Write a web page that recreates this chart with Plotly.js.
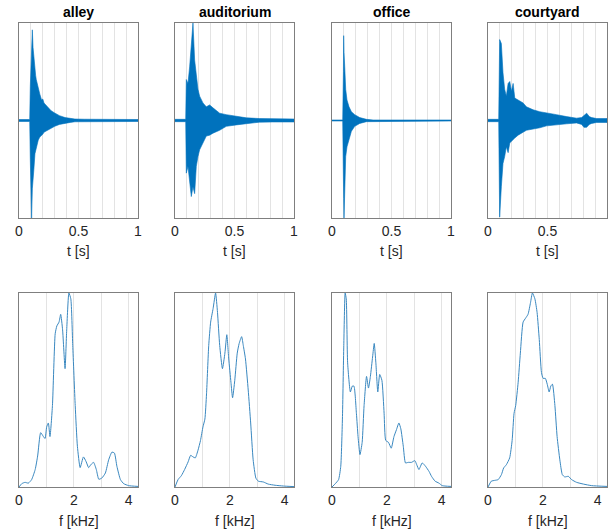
<!DOCTYPE html>
<html>
<head>
<meta charset="utf-8">
<script src="https://cdn.plot.ly/plotly-3.0.1.min.js"></script>
<style>html,body{margin:0;padding:0;background:#fff}#chart{width:610px;height:531px}</style>
</head>
<body>
<div id="chart"></div>
<script>
// ---- Data ----
const roomNames = ["alley", "auditorium", "office", "courtyard"];

// Impulse-response envelopes (normalized amplitude) vs time [s]
const alleyT     = [0, 0.09, 0.095, 0.100, 0.106, 0.112, 0.118, 0.125, 0.134, 0.14, 0.145, 0.155, 0.162, 0.175, 0.19, 0.2, 0.21, 0.23, 0.246, 0.27, 0.30, 0.34, 0.387, 0.43, 0.47, 0.55, 0.65, 0.75, 0.85, 1.0];
const alleyUp    = [0.01, 0.01, 0.35, 0.6, 0.85, 0.93, 0.75, 0.62, 0.52, 0.46, 0.42, 0.36, 0.31, 0.27, 0.21, 0.22, 0.18, 0.15, 0.13, 0.10, 0.077, 0.05, 0.03, 0.022, 0.015, 0.013, 0.012, 0.01, 0.012, 0.01];
const alleyLo    = [-0.01, -0.01, -0.4, -0.75, -1.0, -0.7, -0.58, -0.5, -0.34, -0.32, -0.27, -0.24, -0.2, -0.17, -0.15, -0.14, -0.12, -0.11, -0.1, -0.08, -0.06, -0.04, -0.027, -0.02, -0.013, -0.012, -0.011, -0.01, -0.011, -0.01];

const auditT     = [0, 0.09, 0.095, 0.109, 0.123, 0.137, 0.151, 0.165, 0.179, 0.193, 0.207, 0.235, 0.263, 0.291, 0.319, 0.375, 0.431, 0.515, 0.60, 0.71, 0.82, 0.94, 1.0];
const auditUp    = [0.012, 0.012, 0.42, 0.38, 0.55, 0.81, 1.0, 0.62, 0.45, 0.32, 0.25, 0.18, 0.14, 0.16, 0.13, 0.075, 0.06, 0.04, 0.027, 0.02, 0.017, 0.017, 0.015];
const auditLo    = [-0.012, -0.012, -0.54, -0.47, -0.61, -0.78, -0.68, -0.75, -0.47, -0.37, -0.3, -0.23, -0.16, -0.15, -0.13, -0.1, -0.06, -0.045, -0.03, -0.017, -0.015, -0.017, -0.015];

const officeT    = [0, 0.09, 0.096, 0.098, 0.101, 0.107, 0.115, 0.126, 0.143, 0.163, 0.191, 0.233, 0.289, 0.345, 1.0];
const officeUp   = [0.005, 0.005, 0.5, 0.87, 0.7, 0.55, 0.32, 0.21, 0.14, 0.09, 0.06, 0.03, 0.012, 0.005, 0.005];
const officeLo   = [-0.005, -0.005, -0.6, -0.8, -1.0, -0.68, -0.37, -0.27, -0.2, -0.11, -0.06, -0.03, -0.012, -0.005, -0.005];

const courtT     = [0, 0.09, 0.098, 0.107, 0.112, 0.126, 0.14, 0.154, 0.169, 0.183, 0.197, 0.211, 0.225, 0.253, 0.295, 0.323, 0.379, 0.435, 0.492, 0.576, 0.66, 0.744, 0.787, 0.806, 0.829, 0.851, 0.871, 0.913, 1.0];
const courtUp    = [0.012, 0.012, 0.83, 0.8, 0.79, 0.49, 0.32, 0.25, 0.38, 0.4, 0.3, 0.38, 0.23, 0.21, 0.18, 0.14, 0.11, 0.09, 0.075, 0.06, 0.04, 0.024, 0.03, 0.05, 0.075, 0.04, 0.03, 0.02, 0.02];
const courtLo    = [-0.012, -0.012, -0.99, -0.82, -0.68, -0.44, -0.37, -0.27, -0.33, -0.23, -0.22, -0.2, -0.18, -0.15, -0.12, -0.1, -0.085, -0.075, -0.055, -0.045, -0.034, -0.025, -0.04, -0.07, -0.07, -0.04, -0.03, -0.02, -0.02];

// Magnitude spectra (normalized) vs frequency [kHz]
const alleyF   = [0, 0.1, 0.22, 0.34, 0.46, 0.59, 0.68, 0.79, 0.89, 0.95, 1.01, 1.07, 1.13, 1.22, 1.32, 1.38, 1.46, 1.52, 1.59, 1.68, 1.74, 1.82, 1.89, 1.96, 2.05, 2.13, 2.23, 2.35, 2.45, 2.54, 2.62, 2.72, 2.82, 2.91, 3.02, 3.15, 3.27, 3.39, 3.48, 3.57, 3.70, 3.82, 4.0, 4.34];
const alleyS   = [0.0, 0.017, 0.024, 0.02, 0.038, 0.09, 0.16, 0.28, 0.26, 0.25, 0.31, 0.33, 0.26, 0.42, 0.79, 0.83, 0.85, 0.89, 0.81, 0.61, 0.81, 1.0, 0.97, 0.73, 0.42, 0.21, 0.10, 0.155, 0.13, 0.10, 0.115, 0.127, 0.09, 0.04, 0.046, 0.072, 0.14, 0.18, 0.175, 0.107, 0.038, 0.017, 0.007, 0.003];

const auditF   = [0, 0.11, 0.23, 0.35, 0.48, 0.57, 0.66, 0.74, 0.84, 0.93, 1.02, 1.09, 1.15, 1.23, 1.30, 1.39, 1.48, 1.55, 1.63, 1.73, 1.82, 1.89, 1.96, 2.04, 2.10, 2.18, 2.27, 2.34, 2.43, 2.49, 2.57, 2.67, 2.76, 2.85, 2.95, 3.04, 3.22, 3.40, 3.65, 3.95, 4.34];
const auditS   = [0.0, 0.038, 0.058, 0.09, 0.13, 0.163, 0.155, 0.15, 0.19, 0.24, 0.31, 0.35, 0.48, 0.73, 0.85, 0.92, 1.0, 0.90, 0.73, 0.61, 0.69, 0.785, 0.66, 0.54, 0.46, 0.55, 0.69, 0.74, 0.775, 0.73, 0.66, 0.50, 0.33, 0.14, 0.046, 0.03, 0.026, 0.015, 0.009, 0.005, 0.002];

const officeF  = [0, 0.12, 0.24, 0.32, 0.38, 0.43, 0.48, 0.52, 0.57, 0.67, 0.74, 0.80, 0.89, 0.95, 1.02, 1.10, 1.17, 1.26, 1.33, 1.40, 1.48, 1.54, 1.60, 1.67, 1.74, 1.82, 1.90, 1.96, 2.06, 2.16, 2.26, 2.35, 2.44, 2.51, 2.60, 2.68, 2.78, 2.90, 3.02, 3.09, 3.17, 3.29, 3.41, 3.54, 3.63, 3.76, 3.90, 4.02, 4.34];
const officeS  = [0.0, 0.017, 0.038, 0.107, 0.35, 0.73, 1.0, 0.97, 0.64, 0.49, 0.52, 0.52, 0.38, 0.26, 0.167, 0.23, 0.42, 0.57, 0.51, 0.57, 0.67, 0.74, 0.64, 0.49, 0.58, 0.55, 0.38, 0.24, 0.23, 0.20, 0.26, 0.295, 0.33, 0.30, 0.21, 0.124, 0.127, 0.127, 0.136, 0.115, 0.09, 0.124, 0.107, 0.08, 0.055, 0.03, 0.02, 0.007, 0.003];

const courtF   = [0, 0.12, 0.24, 0.37, 0.49, 0.57, 0.67, 0.79, 0.88, 0.95, 1.01, 1.10, 1.18, 1.28, 1.37, 1.46, 1.55, 1.62, 1.71, 1.79, 1.87, 1.95, 2.01, 2.09, 2.16, 2.23, 2.29, 2.35, 2.44, 2.52, 2.62, 2.71, 2.80, 2.93, 3.05, 3.23, 3.48, 3.78, 4.34];
const courtS   = [0.0, 0.03, 0.034, 0.038, 0.064, 0.098, 0.115, 0.15, 0.24, 0.38, 0.42, 0.54, 0.69, 0.85, 0.87, 0.89, 0.95, 1.0, 0.97, 0.90, 0.76, 0.59, 0.56, 0.56, 0.53, 0.49, 0.52, 0.53, 0.42, 0.26, 0.14, 0.064, 0.052, 0.055, 0.038, 0.024, 0.015, 0.007, 0.003];

const timeTicks = [0, 0.5, 1];
const freqTicks = [0, 2, 4];

// ---- Build figure ----
const envT = [alleyT, auditT, officeT, courtT];
const envU = [alleyUp, auditUp, officeUp, courtUp];
const envL = [alleyLo, auditLo, officeLo, courtLo];
const specF = [alleyF, auditF, officeF, courtF];
const specS = [alleyS, auditS, officeS, courtS];

const W = 610, H = 531;
const colPx = [[19, 138], [175, 294], [332, 451], [488, 607]];
const topRow = [23, 218], botRow = [293, 487];
const px = v => v / W, py = v => 1 - v / H;

const blue = "#0072BD";
const textFont = {family: "Liberation Sans, Arial, Helvetica, sans-serif", size: 14, color: "#262626"};
const traces = [];
const layout = {
  width: W, height: H, margin: {l: 0, r: 0, t: 0, b: 0},
  paper_bgcolor: "#fff", plot_bgcolor: "#fff", showlegend: false,
  font: textFont, annotations: []
};

for (let i = 0; i < 4; i++) {
  const xa = 2 * i + 1, xb = 2 * i + 2;
  const t = envT[i], u = envU[i], l = envL[i];
  traces.push({
    type: "scatter", mode: "lines",
    x: t.concat(t.slice().reverse()),
    y: u.concat(l.slice().reverse()),
    fill: "toself", fillcolor: blue,
    line: {color: blue, width: 0.6},
    xaxis: "x" + xa, yaxis: "y" + xa, hoverinfo: "skip"
  });
  traces.push({
    type: "scatter", mode: "lines",
    x: specF[i], y: specS[i],
    line: {color: "#3a88c0", width: 1, shape: "spline", smoothing: 0.5},
    xaxis: "x" + xb, yaxis: "y" + xb, hoverinfo: "skip"
  });

  const dom = [px(colPx[i][0]), px(colPx[i][1])];
  const common = {
    showline: true, mirror: true, linecolor: "#7f7f7f", linewidth: 1,
    zeroline: false, ticks: "", gridcolor: "#e3e3e3", gridwidth: 1,
    tickfont: textFont, fixedrange: true
  };
  layout["xaxis" + xa] = Object.assign({}, common, {
    domain: dom, anchor: "y" + xa, range: [0, 1],
    tickvals: timeTicks, showgrid: true,
    minor: {dtick: 0.1, tick0: 0, showgrid: true, gridcolor: "#e3e3e3", gridwidth: 1, ticks: ""}
  });
  layout["yaxis" + xa] = Object.assign({}, common, {
    domain: [py(topRow[1]), py(topRow[0])], anchor: "x" + xa,
    range: [-1, 1], showticklabels: false, showgrid: false
  });
  layout["xaxis" + xb] = Object.assign({}, common, {
    domain: dom, anchor: "y" + xb, range: [0, 4.34],
    tickvals: freqTicks, showgrid: true,
    minor: {dtick: 1, tick0: 0, showgrid: true, gridcolor: "#e3e3e3", gridwidth: 1, ticks: ""}
  });
  layout["yaxis" + xb] = Object.assign({}, common, {
    domain: [py(botRow[1]), py(botRow[0])], anchor: "x" + xb,
    range: [0, 1.0], showticklabels: false, showgrid: false
  });

  const cx = (dom[0] + dom[1]) / 2;
  layout.annotations.push({
    text: "<b>" + roomNames[i] + "</b>", x: cx, y: py(12), xref: "paper", yref: "paper",
    xanchor: "center", yanchor: "middle", showarrow: false,
    font: {family: textFont.family, size: 14, color: "#000"}
  });
  layout.annotations.push({
    text: "t [s]", x: cx, y: py(251), xref: "paper", yref: "paper",
    xanchor: "center", yanchor: "middle", showarrow: false, font: textFont
  });
  layout.annotations.push({
    text: "f [kHz]", x: cx, y: py(521), xref: "paper", yref: "paper",
    xanchor: "center", yanchor: "middle", showarrow: false, font: textFont
  });
}

Plotly.newPlot("chart", traces, layout, {staticPlot: true, displayModeBar: false});
</script>
</body>
</html>
